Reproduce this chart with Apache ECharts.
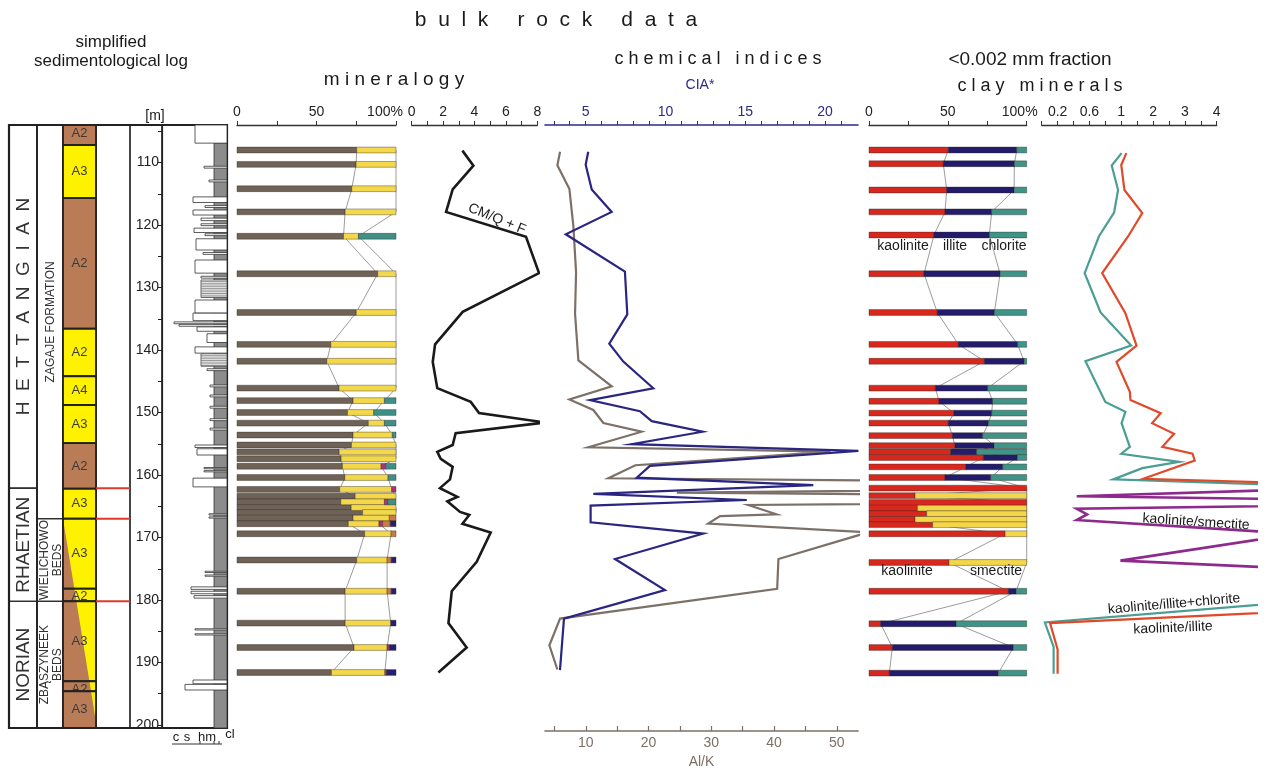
<!DOCTYPE html>
<html><head><meta charset="utf-8">
<script src="https://cdn.jsdelivr.net/npm/echarts@6/dist/echarts.min.js"></script>
<style>html,body{margin:0;padding:0;background:#fff}#c{width:1270px;height:774px}</style>
</head><body><div id="c"></div>
<script>
// ================= DATA =================
const depthLabels = [110,120,130,140,150,160,170,180,190,200];
const depthTicks = [105,110,115,120,125,130,135,140,145,150,155,160,165,170,175,180,185,190,195,200];

const stageTop = [104, 162.1, 180.2];
const stageBottom = [162.1, 180.2, 200.48];
const stageName = ['H  E  T  T  A  N  G  I  A  N', 'RHAETIAN', 'NORIAN'];

const formationTop = [104, 167.0, 180.2];
const formationBottom = [167.0, 180.2, 200.48];
const formationName = ['ZAGAJE FORMATION', 'WIELICHOWO\nBEDS', 'ZBĄSZYNEEK\nBEDS'];

const faciesTop =    [104.0, 107.2, 115.7, 136.6, 144.2, 148.8, 154.9, 162.2, 167.0, 178.2, 180.2, 193.0, 194.6];
const faciesBottom = [107.2, 115.7, 136.6, 144.2, 148.8, 154.9, 162.2, 167.0, 178.2, 180.2, 193.0, 194.6, 200.48];
const faciesName =   ['A2','A3','A2','A2','A4','A3','A2','A3','A3','A2','A3','A2','A3'];
const faciesKind =   ['b','y','b','y','y','y','b','y','m','m','m','m','m'];
const wedgeTop = 167.0, wedgeBottom = 199.5;
const boundaryDepths = [162.1, 167.0, 180.2];

// lithology beds: top, bottom, grain-size index (0 = right edge), type
const lithTop =    [106.9,104.0,110.6,112.8,115.5,116.9,117.6,118.9,119.8,120.5,121.4,122.2,124.4,125.6,128.2,128.8,132.0,134.1,135.5,135.9,136.3,137.4,139.5,140.6,143.0,145.6,147.2,149.0,151.0,152.5,155.2,155.8,158.8,159.3,160.5,166.2,166.7,175.4,176.0,177.9,178.6,179.3,184.6,185.4,192.8,193.5];
const lithBottom = [200.48,106.9,110.9,113.1,116.4,117.2,118.4,119.3,120.1,121.2,121.7,124.0,124.7,127.7,128.5,131.6,134.1,135.3,135.8,136.2,137.0,138.8,140.5,142.6,143.3,145.9,147.5,149.3,151.3,152.8,155.6,156.8,159.0,159.5,161.9,166.4,166.9,175.6,176.2,178.3,179.0,179.7,184.8,185.6,193.4,194.4];
const lithGrain =  [1.3,3.2,2.3,1.8,3.4,2.2,3.4,2.6,2.6,3.3,2.2,3.1,2.4,3.2,2.6,2.6,3.2,3.4,5.3,4.8,3.0,2.0,3.2,2.6,2.0,1.7,1.7,1.7,1.7,1.7,3.2,3.0,2.3,2.3,3.4,1.8,1.8,2.2,2.2,3.6,3.6,3.3,3.2,3.2,3.4,4.2];
const lithType =   ['mud','sand','sand','sand','sand','sand','sand','sand','sand','sand','sand','sand','sand','sand','sand','het','sand','sand','sand','sand','sand','sand','sand','het','sand','sand','sand','sand','sand','sand','sand','sand','sand','sand','sand','sand','sand','sand','sand','sand','sand','sand','sand','sand','sand','sand'];
const grainLabels = ['c','s','hm','cl'];

// bulk mineralogy (%)
const mineralDepth = [108.0,110.3,114.2,117.9,121.8,127.8,134.0,139.1,141.8,146.1,148.1,150.0,151.7,153.6,155.2,156.3,157.4,158.6,160.4,162.3,163.4,164.3,165.2,166.0,166.9,167.8,169.4,173.6,178.6,183.7,187.6,191.6];
const minClay    = [75.3,74.9,72.2,68,67,88.5,75,59,56.5,64.2,73,69.5,82.6,73,72,64.2,65.5,66.3,67.8,64.6,74.3,65.3,71.8,79,73,70,80.3,75.3,68,68,73.6,59.4];
const minQF      = [24.7,25.1,27.8,32,9.4,11.5,25,41,43.5,35.8,19.7,16.5,10.1,24.7,28,35.8,34.5,24.3,27.2,32.7,25.7,27.4,28.2,21,22.8,19.3,16.6,19.1,26.4,28.7,20.8,33.6];
const minMagenta = [0,0,0,0,0,0,0,0,0,0,0,0,0,0,0,0,0,2.9,0,2.7,0,2.1,0,0,0,2.3,0,0,0,0,1.4,1.1];
const minTeal    = [0,0,0,0,23.6,0,0,0,0,0,7.3,14,7.3,2.3,0,0,0,6.5,5,0,0,5.2,0,0,0,0,0,0,0,0,0,0];
const minOrange  = [0,0,0,0,0,0,0,0,0,0,0,0,0,0,0,0,0,0,0,0,0,0,0,0,4.2,4.8,3.1,2.6,2.6,0,0,0];
const minNavy    = [0,0,0,0,0,0,0,0,0,0,0,0,0,0,0,0,0,0,0,0,0,0,0,0,0,3.6,0,3,3,3.3,4.2,5.9];
const pctLabels = [0, 50, 100];

// CM/Q+F
const cmDepth = [108.1,110.5,114.3,117.9,121.9,127.7,133.9,139.1,141.9,146.1,148.3,150.1,151.6,153.3,155.2,156.3,157.4,158.7,160.7,162.1,163.5,164.2,165.9,166.4,167.8,169.2,173.9,178.6,183.7,187.6,191.6];
const cmValue = [3.23,3.93,2.61,2.19,7.28,8.11,3.25,1.49,1.34,1.63,3.76,4.29,8.49,2.80,2.61,1.63,1.85,2.61,2.44,1.80,2.91,2.27,3.08,3.67,3.23,5.03,4.14,2.55,2.34,3.50,1.70];
const cmLabels = [0,2,4,6,8];

// CIA*
const ciaDepth = [108.3,110.4,114.4,118.0,121.6,127.6,134.5,139.2,142.1,146.4,148.3,150.1,151.7,153.4,155.4,156.5,158.9,160.8,162.0,163.4,164.4,165.3,168.0,169.8,173.9,178.9,183.5,191.8];
const ciaValue = [5.16,5.0,5.38,6.63,3.75,7.46,7.61,6.48,7.36,9.24,5.27,8.40,9.14,12.33,7.88,22.1,9.03,8.2,19.27,5.48,15.1,5.31,5.31,12.37,6.84,9.97,3.64,3.39];
const ciaLabels = [5,10,15,20];
const ciaTicks = [3,4,5,6,7,8,9,10,11,12,13,14,15,16,17,18,19,20,21];

// Al/K
const alkDepth = [108.3,110.5,114.3,120.3,127.7,134.4,141.9,146.1,148.2,149.9,152.0,153.4,155.9,156.6,158.8,160.9,162.0,163.2,164.3,165.2,166.7,167.0,168.2,169.6,173.9,178.7,183.5,187.8,191.7];
const alkValue = [5.9,5.47,7.39,8.02,8.45,8.29,8.82,14.14,7.39,11.2,12.8,18.9,10.4,49,17.9,13.6,150,24.5,150,35.9,40.4,31.4,29.5,55,40.7,40.5,5.9,4.2,5.47];
const alkLabels = [10,20,30,40,50];
const alkTicks = [5,10,15,20,25,30,35,40,45,50];

// clay minerals (<0.002 mm, %)
const clayDepth = [108.0,110.2,114.4,117.9,121.6,127.8,134.0,139.1,141.8,146.1,148.2,150.1,151.7,153.7,155.3,156.3,157.2,158.7,160.4,162.1,163.3,164.4,165.3,166.2,167.1,167.95,169.4,174.0,178.6,183.8,187.6,191.7];
const clayKaolinite = [50.3,47.1,49.3,48.2,41.2,34.9,43.3,56.7,73.2,42.1,44.4,53.9,50.3,52.9,54.5,51.8,72.5,61.5,48.2,100,29.2,100,30.7,36.6,29.2,40.4,86.3,50.7,88.4,7.4,14.8,12.9];
const clayIllite    = [43.4,45.1,42.7,29.6,35.1,48.2,36.2,37.6,25.1,33.2,34.0,23.9,25.4,19.2,24.8,16.5,21.6,23.3,29.0,0,0,0,0,0,0,0,0,0,4.8,47.8,76.7,69.1];
const claySmectite  = [0,0,0,0,0,0,0,0,0,0,0,0,0,0,0,0,0,0,0,0,70.8,0,69.3,63.4,70.8,59.6,13.7,49.3,0,0,0,0];
const clayChlorite  = [6.3,7.8,8.0,22.2,23.7,16.9,20.5,5.7,1.7,24.7,21.6,22.2,24.3,27.9,20.7,31.7,5.9,15.2,22.8,0,0,0,0,0,0,0,0,0,6.8,44.8,8.5,18.0];

// clay ratios
const kiDepth = [108.5,110.4,114.4,118.1,121.8,127.7,134.1,139.3,141.9,146.7,148.0,150.1,151.7,153.4,155.5,156.6,157.7,160.6,162.1,178.6,183.7,187.9,191.8];
const kiValue = [1.16,1.00,1.10,1.66,1.22,0.76,1.13,1.48,0.94,1.27,1.29,2.24,1.97,2.66,2.29,3.24,3.31,1.69,11.6,19.4,0.105,0.2,0.2];
const kicDepth = [108.5,110.5,114.4,118.0,121.8,127.7,134.0,139.3,141.8,148.3,149.9,151.7,155.5,156.6,157.9,158.9,160.7,162.1,178.6,183.6,187.5,191.8];
const kicValue = [1.01,0.88,0.96,0.91,0.72,0.54,0.74,1.31,0.55,0.80,1.13,1.01,1.27,1.00,2.82,1.66,0.90,9.0,10.5,0.04,0.15,0.15];
const ksDepth = [162.1,163.4,164.4,165.4,166.3,167.2,169.4,173.7,178.6];
const ksValue = [7.8,0.44,13.7,0.44,0.57,0.44,6.5,0.99,22];
const ratioLabels = ['0.2','0.6','1','2','3','4'];
const ratioLabelValues = [0.2,0.6,1,2,3,4];

// ================= CHART =================
const FONT = '"Liberation Sans", Arial, sans-serif';
const D0 = 104, PXM = 6.25, TOP = 125;
const BAR_H = 5.8;
// broken ratio scale: 0..1 stretched x5, 1..4 stretched x2
function ratioT(v){ return v <= 1 ? v * 5 : 5 + (v - 1) * 2; }

const gridDefs = [
  {left:9, width:218, h:603, border:2.2},     // 0 frame
  {left:9, width:28, h:603, border:1.2},      // 1 stage
  {left:37, width:26, h:603, border:1.2},     // 2 formation
  {left:63, width:33, h:603, border:1.2},     // 3 facies
  {left:96, width:34, h:603, border:1.2},     // 4 spacer
  {left:130, width:32, h:603, border:1.2},    // 5 depth col
  {left:162, width:65, h:603, border:1.2},    // 6 lithology
  {left:237, width:159, h:603},               // 7 mineralogy
  {left:411.7, width:125.6, h:603},           // 8 CM/Q+F
  {left:545, width:313, h:610},               // 9 chemistry
  {left:869, width:157.7, h:603},             // 10 clay
  {left:1041.7, width:175, h:603},            // 11 ratio axis
  {left:1041.7, width:214.3, h:603}           // 12 ratio data
];
const grid = gridDefs.map(g => ({
  left:g.left, top:TOP, width:g.width, height:g.h,
  show: !!g.border, borderColor:'#222', borderWidth:g.border || 0, backgroundColor:'transparent'
}));
const yAxis = gridDefs.map((g,i) => ({type:'value', gridIndex:i, inverse:true, min:D0, max:D0 + g.h/PXM, show:false}));
yAxis[6] = {
  type:'value', gridIndex:6, inverse:true, min:D0, max:D0 + 603/PXM, position:'left',
  axisLine:{show:true, onZero:false, lineStyle:{color:'#222', width:1.2}},
  axisTick:{show:true, length:4, customValues:depthTicks, lineStyle:{color:'#222', width:1}},
  axisLabel:{customValues:depthLabels, fontSize:14, color:'#222', margin:3, fontFamily:FONT},
  splitLine:{show:false}
};
const blackLine = {show:true, onZero:false, lineStyle:{color:'#333', width:1.3}};
const blackTick = {show:true, length:4, lineStyle:{color:'#333', width:1}};
const lab = (extra) => Object.assign({fontSize:14, color:'#222', fontFamily:FONT, margin:6, showMinLabel:true, showMaxLabel:true}, extra);
function pctAxisLabel(shift){
  return lab({
    formatter: v => pctLabels.indexOf(v) < 0 ? '' : (v === 100 ? '{p|100%}' : String(v)),
    rich:{p:{fontSize:14, color:'#222', fontFamily:FONT, padding:[0, shift, 0, 0]}}
  });
}

const xAxis = [];
for (let i = 0; i <= 8; i++) xAxis.push({type:'value', gridIndex:i, min:0, max:1, show:false});
xAxis[6] = {type:'value', gridIndex:6, min:0, max:6.5, inverse:true, show:false};
xAxis[7] = {type:'value', gridIndex:7, position:'top', min:0, max:100, interval:25,
  axisLine:blackLine, axisTick:blackTick, splitLine:{show:false}, axisLabel:pctAxisLabel(22)};
xAxis[8] = {type:'value', gridIndex:8, position:'top', min:0, max:8, interval:1,
  axisLine:blackLine, axisTick:blackTick, splitLine:{show:false},
  axisLabel:lab({formatter: v => cmLabels.indexOf(v) < 0 ? '' : String(v)})};
const ciaMin = 2.45, ciaPx = 15.95;
xAxis[9] = {type:'value', gridIndex:9, position:'top', min:ciaMin, max:ciaMin + 313/ciaPx,
  axisLine:{show:true, onZero:false, lineStyle:{color:'#2d2a86', width:1.6}},
  axisTick:{show:true, length:4, customValues:ciaTicks, lineStyle:{color:'#2d2a86', width:1}},
  splitLine:{show:false}, axisLabel:lab({customValues:ciaLabels, color:'#2d2a86'})};
const alkMin = 3.5, alkPx = 6.275;
xAxis[10] = {type:'value', gridIndex:9, position:'bottom', min:alkMin, max:alkMin + 313/alkPx,
  axisLine:{show:true, onZero:false, lineStyle:{color:'#7d7068', width:1.6}},
  axisTick:{show:true, inside:true, length:5, customValues:alkTicks, lineStyle:{color:'#7d7068', width:1.2}},
  splitLine:{show:false}, axisLabel:lab({customValues:alkLabels, color:'#7d7068', margin:5}),
  name:'Al/K', nameLocation:'middle', nameGap:24, nameTextStyle:{color:'#7d7068', fontSize:14, fontFamily:FONT}};
xAxis[11] = {type:'value', gridIndex:10, position:'top', min:0, max:100, interval:25,
  axisLine:blackLine, axisTick:blackTick, splitLine:{show:false}, axisLabel:pctAxisLabel(14)};
xAxis[12] = {type:'value', gridIndex:11, position:'top', min:0, max:11, interval:1,
  axisLine:blackLine, axisTick:blackTick, splitLine:{show:false},
  axisLabel:lab({formatter: t => {
    const k = ratioLabelValues.findIndex(v => Math.abs(ratioT(v) - t) < 1e-6);
    return k < 0 ? '' : ratioLabels[k];
  }})};
xAxis[13] = {type:'value', gridIndex:12, min:0, max:214.3/(175/11), show:false};

// ---------- renderers ----------
function yOf(api, d){ return api.coord([0, d])[1]; }

function stageRender(names, font){
  return function(params, api){
    const cs = params.coordSys;
    const y0 = yOf(api, api.value(0)), y1 = yOf(api, api.value(1));
    return {type:'group', children:[
      {type:'rect', shape:{x:cs.x, y:y0, width:cs.width, height:y1-y0}, style:{fill:'none', stroke:'#222', lineWidth:1.2}},
      {type:'text', x:cs.x + cs.width/2 + 1, y:(y0+y1)/2, rotation:Math.PI/2,
       style:{text:names[api.value(2)], align:'center', verticalAlign:'middle', textAlign:'center', textVerticalAlign:'middle', font:font, fill:'#333', lineHeight:13}}
    ]};
  };
}
const YEL = '#fff200', BRN = '#b97c56';
function faciesRender(params, api){
  const cs = params.coordSys;
  const top = api.value(0), bot = api.value(1), i = api.value(2);
  const y0 = yOf(api, top), y1 = yOf(api, bot);
  const xL = cs.x, xR = cs.x + cs.width;
  const kind = faciesKind[i];
  const ch = [{type:'rect', shape:{x:xL, y:y0, width:xR-xL, height:y1-y0}, style:{fill: kind === 'b' ? BRN : YEL}}];
  if (kind === 'm') {
    const xw = d => Math.min(xR, xL + (xR-xL) * (d - wedgeTop) / (wedgeBottom - wedgeTop));
    const pts = [[xL,y0],[xw(top),y0]];
    if (bot > wedgeBottom) { pts.push([xR, yOf(api, wedgeBottom)]); pts.push([xR, y1]); }
    else pts.push([xw(bot), y1]);
    pts.push([xL, y1]);
    ch.push({type:'polygon', shape:{points:pts}, style:{fill:BRN}});
  }
  ch.push({type:'rect', shape:{x:xL, y:y0, width:xR-xL, height:y1-y0}, style:{fill:'none', stroke:'#222', lineWidth:1.8}});
  ch.push({type:'text', x:(xL+xR)/2, y: (y1 - y0 < 22) ? y0 + 8 : (y0+y1)/2,
    style:{text:faciesName[i], align:'center', verticalAlign:'middle', textAlign:'center', textVerticalAlign:'middle', font:'13px ' + FONT, fill:'#3a3a3a'}});
  return {type:'group', children:ch};
}
function boundaryRender(params, api){
  const cs = params.coordSys, y = yOf(api, api.value(0));
  return {type:'line', shape:{x1:cs.x, y1:y, x2:cs.x+cs.width, y2:y}, style:{stroke:'#e2382a', lineWidth:2}};
}
const lithKinds = ['mud','sand','het'];
function lithRender(params, api){
  const cs = params.coordSys;
  const y0 = yOf(api, api.value(0)), y1 = yOf(api, api.value(1));
  const xl = api.coord([api.value(2), api.value(0)])[0], xr = cs.x + cs.width;
  const kind = lithKinds[api.value(3)];
  if (kind === 'mud') return {type:'rect', shape:{x:xl, y:y0, width:xr-xl, height:y1-y0}, style:{fill:'#8c8c8c', stroke:'#333', lineWidth:0.8}};
  if (kind === 'sand') return {type:'rect', shape:{x:xl, y:y0, width:xr-xl, height:y1-y0}, style:{fill:'#fff', stroke:'#333', lineWidth:0.8}};
  const ch = [{type:'rect', shape:{x:xl, y:y0, width:xr-xl, height:y1-y0}, style:{fill:'#fff', stroke:'#444', lineWidth:0.8}}];
  for (let y = y0 + 1.6; y < y1; y += 1.7) ch.push({type:'line', shape:{x1:xl, y1:y, x2:xr, y2:y}, style:{stroke:'#666', lineWidth:0.7}});
  return {type:'group', children:ch};
}
function barRender(params, api){
  const a = api.value(0), b = api.value(1), d = api.value(2);
  if (!(b - a > 0.001)) return null;
  const p0 = api.coord([a, d]), p1 = api.coord([b, d]);
  return {type:'rect', shape:{x:p0[0], y:p0[1]-BAR_H/2, width:p1[0]-p0[0], height:BAR_H},
    style:{fill:api.visual('color'), stroke:'rgba(45,38,32,0.55)', lineWidth:0.7}};
}
function stackSeries(xi, yi, depths, comps, colors, names){
  const cum = depths.map(() => 0), out = [];
  comps.forEach((arr, k) => {
    const data = depths.map((d, i) => { const a = cum[i]; cum[i] += arr[i]; return [a, cum[i], d]; });
    out.push({type:'custom', name:names[k], xAxisIndex:xi, yAxisIndex:yi, data, renderItem:barRender,
      itemStyle:{color:colors[k]}, z:4, silent:true});
  });
  return out;
}
function guide(xi, yi, pts){
  return {type:'line', xAxisIndex:xi, yAxisIndex:yi, data:pts, symbol:'none', silent:true, z:2,
    lineStyle:{color:'#9c9c9c', width:1}};
}
function curve(xi, yi, xs, ys, color, w, map){
  return {type:'line', xAxisIndex:xi, yAxisIndex:yi, symbol:'none', silent:true, z:5, clip:true,
    data: xs.map((v, i) => [map ? map(v) : v, ys[i]]), lineStyle:{color, width:w, join:'miter'}};
}

const series = [];
series.push({type:'custom', xAxisIndex:1, yAxisIndex:1, data:stageTop.map((t,i)=>[t, stageBottom[i], i]), renderItem:stageRender(stageName, '19px ' + FONT), silent:true});
series.push({type:'custom', xAxisIndex:2, yAxisIndex:2, data:formationTop.map((t,i)=>[t, formationBottom[i], i]), renderItem:stageRender(formationName, '12px ' + FONT), silent:true});
series.push({type:'custom', xAxisIndex:3, yAxisIndex:3, data:faciesTop.map((t,i)=>[t, faciesBottom[i], i]), renderItem:faciesRender, silent:true});
series.push({type:'custom', xAxisIndex:4, yAxisIndex:4, data:boundaryDepths.map(d=>[d]), renderItem:boundaryRender, silent:true});
series.push({type:'custom', xAxisIndex:6, yAxisIndex:6, data:lithTop.map((t,i)=>[t, lithBottom[i], lithGrain[i], lithKinds.indexOf(lithType[i])]), renderItem:lithRender, silent:true});

// mineralogy
series.push(guide(7, 7, mineralDepth.map((d,i)=>[minClay[i], d])));
series.push(guide(7, 7, mineralDepth.map((d,i)=>[minClay[i] + minQF[i], d])));
series.push(...stackSeries(7, 7, mineralDepth,
  [minClay, minQF, minMagenta, minTeal, minOrange, minNavy],
  ['#6f6357', '#f4d84c', '#b0307f', '#3f8f86', '#c97a45', '#262070'],
  ['clay minerals', 'Q + F', 'magenta', 'teal', 'orange', 'navy']));
// CM/Q+F
series.push(curve(8, 8, cmValue, cmDepth, '#1a1a1a', 2.6));
// chemistry
series.push(curve(10, 9, alkValue, alkDepth, '#7d7068', 2.2));
series.push(curve(9, 9, ciaValue, ciaDepth, '#2a2580', 2.2));
// clay
series.push(guide(11, 10, clayDepth.map((d,i)=>[clayKaolinite[i], d])));
series.push(guide(11, 10, clayDepth.map((d,i)=>[clayKaolinite[i] + clayIllite[i] + claySmectite[i], d])));
series.push(...stackSeries(11, 10, clayDepth,
  [clayKaolinite, clayIllite, claySmectite, clayChlorite],
  ['#d8281e', '#231b6b', '#f3d64a', '#3f9488'],
  ['kaolinite', 'illite', 'smectite', 'chlorite']));
// ratios
series.push(curve(13, 12, kicValue, kicDepth, '#4a9e92', 2.2, ratioT));
series.push(curve(13, 12, kiValue, kiDepth, '#e04a2a', 2.2, ratioT));
series.push(curve(13, 12, ksValue, ksDepth, '#8e2a8e', 2.6, ratioT));

// ---------- texts ----------
function txt(text, x, y, size, opts){
  const o = opts || {};
  return {type:'text', x, y, rotation:o.rot || 0, z:20, silent:true,
    style:{text, font:(o.weight ? o.weight + ' ' : '') + size + 'px ' + FONT, fill:o.color || '#1a1a1a',
      align:o.align || 'center', verticalAlign:'middle', textAlign:o.align || 'center', textVerticalAlign:'middle'}};
}
const graphic = [
  txt('b  u  l  k     r  o  c  k     d  a  t  a', 556, 20, 21),
  txt('simplified', 111, 42, 17),
  txt('sedimentological log', 111, 61, 17),
  txt('m i n e r a l o g y', 394, 80, 19),
  txt('c h e m i c a l   i n d i c e s', 718, 59, 18),
  txt('CIA*', 700, 85, 14, {color:'#2d2a86'}),
  txt('<0.002 mm fraction', 1030, 60, 19),
  txt('c l a y   m i n e r a l s', 1040, 86, 18),
  txt('[m]', 155, 116, 14),
  txt('CM/Q + F', 497, 219, 14, {rot:-0.39}),
  txt('kaolinite', 903, 246, 14),
  txt('illite', 955, 246, 14),
  txt('chlorite', 1004, 246, 14),
  txt('kaolinite', 907, 571, 14),
  txt('smectite', 996, 571, 14),
  txt('kaolinite/smectite', 1196, 522, 14, {rot:-0.065}),
  txt('kaolinite/illite+chlorite', 1174, 604, 14, {rot:0.085}),
  txt('kaolinite/illite', 1173, 628, 14, {rot:0.04}),
  txt(grainLabels[0], 176, 737, 13),
  txt(grainLabels[1], 187, 737, 13),
  txt(grainLabels[2], 207, 737, 13),
  txt(grainLabels[3], 230, 734, 13),
  {type:'polyline', silent:true, shape:{points:[[172,744],[222,744]]}, style:{stroke:'#333', lineWidth:1}},
  {type:'polyline', silent:true, shape:{points:[[200,744],[200,741]]}, style:{stroke:'#333', lineWidth:1}},
  {type:'polyline', silent:true, shape:{points:[[214,744],[214,741]]}, style:{stroke:'#333', lineWidth:1}},
  {type:'polyline', silent:true, shape:{points:[[219,744],[219,741]]}, style:{stroke:'#333', lineWidth:1}}
];

const chart = echarts.init(document.getElementById('c'), null, {renderer:'canvas', width:1270, height:774});
chart.setOption({
  animation:false,
  backgroundColor:'#ffffff',
  textStyle:{fontFamily:FONT},
  grid, xAxis, yAxis, series, graphic
});
</script>
</body></html>
